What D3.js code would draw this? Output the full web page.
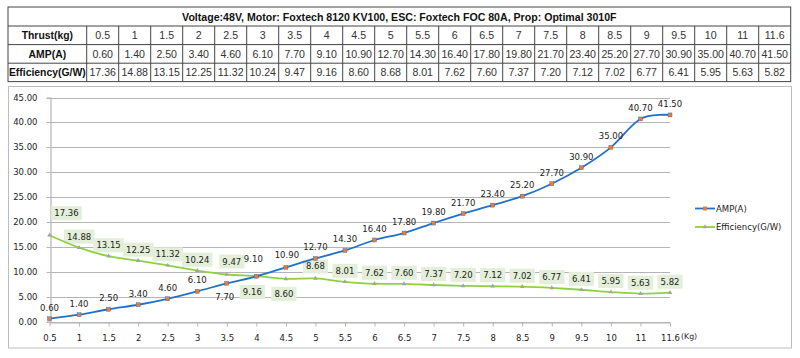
<!DOCTYPE html>
<html><head><meta charset="utf-8">
<script src="https://cdn.jsdelivr.net/npm/d3@7"></script>
<style>html,body{margin:0;padding:0;background:#fff;}svg{display:block;}</style>
</head><body>
<svg id="c" width="800" height="358"></svg>
<script>
const title = "Voltage:48V, Motor: Foxtech 8120 KV100, ESC: Foxtech FOC 80A, Prop: Optimal 3010F";
const thrust = ["0.5","1","1.5","2","2.5","3","3.5","4","4.5","5","5.5","6","6.5","7","7.5","8","8.5","9","9.5","10","11","11.6"];
const amp = [0.60,1.40,2.50,3.40,4.60,6.10,7.70,9.10,10.90,12.70,14.30,16.40,17.80,19.80,21.70,23.40,25.20,27.70,30.90,35.00,40.70,41.50];
const eff = [17.36,14.88,13.15,12.25,11.32,10.24,9.47,9.16,8.60,8.68,8.01,7.62,7.60,7.37,7.20,7.12,7.02,6.77,6.41,5.95,5.63,5.82];
const rowHeads = ["Thrust(kg)","AMP(A)","Efficiency(G/W)"];
const seriesNames = ["AMP(A)","Efficiency(G/W)"];
const yTicks = [0,5,10,15,20,25,30,35,40,45];
const xUnit = "(Kg)";

// label placement tweaks (index -> [dx,dy]), separate from data
const ampLabelOff = {6:[-2,14],7:[-3,-17],8:[1,-12.5]};
const effLabelOff = {0:[17,-22],6:[5,-13],7:[-4,16],8:[-2,15],9:[0,-12]};

const svg = d3.select("#c");
const tf = "'Liberation Sans', Arial, sans-serif";
const cf = "'DejaVu Sans', Verdana, sans-serif";

// ---------- table ----------
const tL = 8, tR = 790.7, firstW = 78.7;
const rowsY = [7, 26, 44.6, 63.2, 81.6];
const colX = d3.scaleLinear().domain([0, thrust.length]).range([tL + firstW, tR]);
const tg = svg.append("g");
tg.append("rect").attr("x", tL).attr("y", rowsY[0]).attr("width", tR - tL).attr("height", rowsY[4] - rowsY[0])
  .attr("fill", "none").attr("stroke", "#444").attr("stroke-width", 1);
for (let r = 1; r < 4; r++) {
  tg.append("line").attr("x1", tL).attr("x2", tR).attr("y1", rowsY[r]).attr("y2", rowsY[r]).attr("stroke", "#444");
}
tg.append("line").attr("x1", tL + firstW).attr("x2", tL + firstW).attr("y1", rowsY[1]).attr("y2", rowsY[4]).attr("stroke", "#444");
d3.range(1, thrust.length).forEach(i => {
  tg.append("line").attr("x1", colX(i)).attr("x2", colX(i)).attr("y1", rowsY[1]).attr("y2", rowsY[4]).attr("stroke", "#444");
});
tg.append("text").attr("x", (tL + tR) / 2).attr("y", (rowsY[0] + rowsY[1]) / 2 + 4)
  .attr("text-anchor", "middle").attr("font-family", tf).attr("font-weight", "bold").attr("font-size", 10.6)
  .attr("fill", "#111").text(title);
const rowsData = [thrust, amp.map(v => v.toFixed(2)), eff.map(v => v.toFixed(2))];
rowHeads.forEach((h, r) => {
  const cy = (rowsY[r + 1] + rowsY[r + 2]) / 2 + 4;
  tg.append("text").attr("x", tL + firstW / 2).attr("y", cy).attr("text-anchor", "middle")
    .attr("font-family", tf).attr("font-weight", "bold").attr("font-size", 10.4).attr("fill", "#111").text(h);
  rowsData[r].forEach((v, i) => {
    tg.append("text").attr("x", colX(i + 0.5)).attr("y", cy).attr("text-anchor", "middle")
      .attr("font-family", tf).attr("font-size", 10.6).attr("fill", "#333").text(v);
  });
});

// ---------- chart ----------
svg.append("rect").attr("x", 8.5).attr("y", 86.5).attr("width", 783).attr("height", 261.5)
  .attr("fill", "#fff").attr("stroke", "#bdbdbd").attr("stroke-width", 1);

const x = d3.scalePoint().domain(thrust).range([49.5, 670]);
const y = d3.scaleLinear().domain([0, 45]).range([321.7, 97.5]);

const g = svg.append("g");
// gridlines
g.selectAll("line.grid").data(yTicks).join("line").attr("class", "grid")
  .attr("x1", 50).attr("x2", 670).attr("y1", d => Math.round(y(d)) + 0.5).attr("y2", d => Math.round(y(d)) + 0.5)
  .attr("stroke", "#b5b5b5").attr("stroke-width", 1.2);

// y axis
const yAx = g.append("g").attr("transform", "translate(50.5,0)")
  .call(d3.axisLeft(y).tickValues(yTicks).tickSize(4).tickPadding(9).tickFormat(d => d.toFixed(2)));
yAx.select(".domain").attr("stroke", "#b5b5b5").attr("stroke-width", 1.2);
yAx.selectAll(".tick line").attr("stroke", "#b5b5b5");
yAx.selectAll(".tick").attr("transform", d => `translate(0,${Math.round(y(d)) + 0.5})`);
yAx.selectAll("text").attr("font-family", cf).attr("font-size", 8.5).attr("fill", "#222");

// x axis
const xAx = g.append("g").attr("transform", `translate(0,${Math.round(y(0)) + 0.5})`)
  .call(d3.axisBottom(x).tickSize(4).tickPadding(8).tickSizeOuter(0));
xAx.select(".domain").attr("stroke", "#b5b5b5").attr("stroke-width", 1.2);
xAx.selectAll(".tick line").attr("stroke", "#b5b5b5");
xAx.selectAll("text").attr("font-family", cf).attr("font-size", 8.5).attr("fill", "#222");
g.append("text").attr("x", 681).attr("y", 339).attr("font-family", cf).attr("font-size", 7.8)
  .attr("fill", "#222").text(xUnit);

// lines
const curve = d3.curveCardinal.tension(0);
const lineAmp = d3.line().x((d, i) => x(thrust[i])).y(d => y(d)).curve(curve);
const ampColor = "#2270c8", ampMark = "#ee7a33";
const effColor = "#8fd13f", effMark = "#a3a3a3";

// efficiency labels first (below), then lines
const effLab = g.append("g");
eff.forEach((v, i) => {
  const o = effLabelOff[i] || [0, -11];
  const cx = x(thrust[i]) + o[0], cy = y(v) + o[1];
  const t = v.toFixed(2);
  const w = t.length * 5.3 + 4;
  effLab.append("rect").attr("x", cx - w / 2).attr("y", cy - 7).attr("width", w).attr("height", 14)
    .attr("fill", "#e3efd9");
  effLab.append("text").attr("x", cx).attr("y", cy + 3).attr("text-anchor", "middle")
    .attr("font-family", cf).attr("font-size", 8.5).attr("fill", "#222").text(t);
});

g.append("path").datum(eff).attr("d", lineAmp).attr("fill", "none").attr("stroke", effColor).attr("stroke-width", 1.8);
const tri = d3.symbol().type(d3.symbolTriangle).size(9);
g.selectAll("path.em").data(eff).join("path").attr("class", "em")
  .attr("transform", (d, i) => `translate(${x(thrust[i])},${y(d)})`).attr("d", tri).attr("fill", effMark);

g.append("path").datum(amp).attr("d", lineAmp).attr("fill", "none").attr("stroke", ampColor).attr("stroke-width", 1.8);
g.selectAll("rect.am").data(amp).join("rect").attr("class", "am")
  .attr("x", (d, i) => x(thrust[i]) - 2).attr("y", d => y(d) - 2).attr("width", 4).attr("height", 4)
  .attr("fill", ampMark).attr("stroke", "#2a66b0").attr("stroke-width", 0.4);

amp.forEach((v, i) => {
  const o = ampLabelOff[i] || [0, -11];
  g.append("text").attr("x", x(thrust[i]) + o[0]).attr("y", y(v) + o[1] + 3).attr("text-anchor", "middle")
    .attr("font-family", cf).attr("font-size", 8.5).attr("fill", "#222").text(v.toFixed(2));
});

// legend
const lg = svg.append("g");
const legY = [208.5, 227];
seriesNames.forEach((n, i) => {
  lg.append("line").attr("x1", 695).attr("x2", 715).attr("y1", legY[i]).attr("y2", legY[i])
    .attr("stroke", i === 0 ? ampColor : effColor).attr("stroke-width", 1.8);
  if (i === 0) {
    lg.append("rect").attr("x", 703).attr("y", legY[i] - 2).attr("width", 4).attr("height", 4).attr("fill", ampMark);
  } else {
    lg.append("path").attr("transform", `translate(705,${legY[i]})`).attr("d", tri).attr("fill", effMark);
  }
  lg.append("text").attr("x", 716).attr("y", legY[i] + 3).attr("font-family", cf).attr("font-size", 8.5)
    .attr("fill", "#222").text(n);
});
</script>
</body></html>
